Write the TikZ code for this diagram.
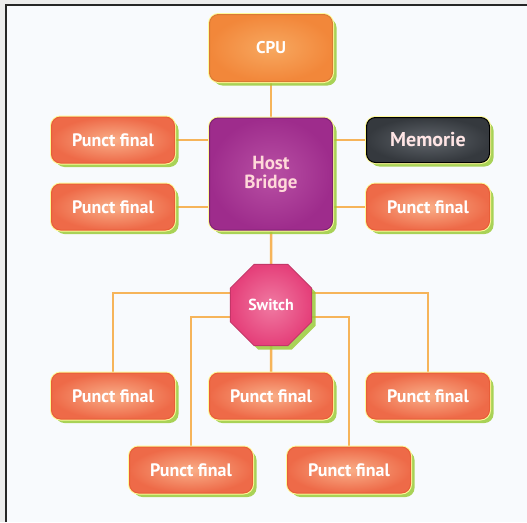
\documentclass[tikz,border=0pt]{standalone}
\usepackage{fontspec}
\setmainfont{PT Sans}
\usetikzlibrary{shapes.geometric,shadows}
\pgfdeclarelayer{bg}
\pgfsetlayers{bg,main}
\definecolor{frameg}{HTML}{ECECEC}
\definecolor{paper}{HTML}{F8FAFD}
\definecolor{wire}{HTML}{F6B45A}
\definecolor{pfin}{HTML}{EE6A48}
\definecolor{pfinin}{HTML}{F9AE88}
\definecolor{pfinedge}{HTML}{E85E38}
\definecolor{cpuc}{HTML}{F2873A}
\definecolor{cpuin}{HTML}{F7A860}
\definecolor{hostc}{HTML}{9E2C8C}
\definecolor{hostin}{HTML}{B850A4}
\definecolor{memc}{HTML}{35393E}
\definecolor{memin}{HTML}{60656B}
\definecolor{swc}{HTML}{E5407A}
\definecolor{swin}{HTML}{F07AA2}
\definecolor{shadowc}{HTML}{9CCB3A}
\tikzset{
  x=1pt, y=-1pt,
  boxbase/.style={rounded corners=9pt, line width=1pt, font=\bfseries,
    drop shadow={shadow xshift=4pt, shadow yshift=-4pt, fill=shadowc, opacity=0.85},
    preaction={draw=yellow!40, line width=3pt}},
  pfinal/.style={boxbase, minimum width=123pt, minimum height=46pt,
    draw=pfinedge, inner color=pfinin, outer color=pfin, text=white, font=\bfseries\fontsize{18}{20}\selectfont},
  cpubox/.style={boxbase, minimum width=123pt, minimum height=67pt,
    draw=cpuc!90!black, inner color=cpuin, outer color=cpuc, text=white, font=\bfseries\fontsize{17}{19}\selectfont},
  hostbox/.style={boxbase, minimum width=123pt, minimum height=112pt,
    draw=hostc!80!black, inner color=hostin, outer color=hostc, text=pink!60!white, align=center,
    font=\bfseries\fontsize{19}{19}\selectfont},
  membox/.style={boxbase, minimum width=123pt, minimum height=45pt,
    draw=black, inner color=memin, outer color=memc, text=red!10!white, font=\bfseries\fontsize{20}{22}\selectfont},
  swbox/.style={regular polygon, regular polygon sides=8, minimum size=88pt, inner sep=0pt,
    draw=swc!85!black, line width=1pt, inner color=swin, outer color=swc, text=white,
    drop shadow={shadow xshift=4pt, shadow yshift=-4pt, fill=shadowc, opacity=0.85},
    font=\bfseries\fontsize{16}{18}\selectfont},
  wireline/.style={draw=wire, line width=2.5pt}
}
\begin{document}
\begin{tikzpicture}
\useasboundingbox (0,0) rectangle (527,522);

\node[cpubox] (cpu) at (271,48) {CPU};
\node[hostbox] (host) at (271,174) {Host\\Bridge};
\node[pfinal] (pl1) at (113,140) {Punct final};
\node[pfinal] (pl2) at (113,207) {Punct final};
\node[membox] (mem) at (428,140) {Memorie};
\node[pfinal] (pr2) at (428,207) {Punct final};
\node[swbox] (sw) at (271,305) {Switch};
\node[pfinal] (b1) at (113,396) {Punct final};
\node[pfinal] (b2) at (271,396) {Punct final};
\node[pfinal] (b3) at (428,396) {Punct final};
\node[pfinal] (c1) at (191,470) {Punct final};
\node[pfinal] (c2) at (349,470) {Punct final};

\coordinate (busA) at (271,293);
\coordinate (busB) at (271,317);

\begin{pgfonlayer}{bg}
\fill[frameg] (0,0) rectangle (527,522);
\fill[paper] (6,5) rectangle (527,522);
\draw[line width=2pt, black!85] (6,522) -- (6,5) -- (527,5);
\draw[wireline] (cpu.south) -- (host.north);
\draw[wireline] (pl1.east) -- (pl1.east -| host.west);
\draw[wireline] (pl2.east) -- (pl2.east -| host.west);
\draw[wireline] (mem.west) -- (mem.west -| host.east);
\draw[wireline] (pr2.west) -- (pr2.west -| host.east);
\draw[wireline] (host.south) -- (sw.north);
\draw[wireline] (busA) -| (b1.north);
\draw[wireline] (busA) -| (b3.north);
\draw[wireline] (busB) -| (c1.north);
\draw[wireline] (busB) -| (c2.north);
\draw[wireline] (sw.south) -- (b2.north);
\end{pgfonlayer}
\end{tikzpicture}
\end{document}
